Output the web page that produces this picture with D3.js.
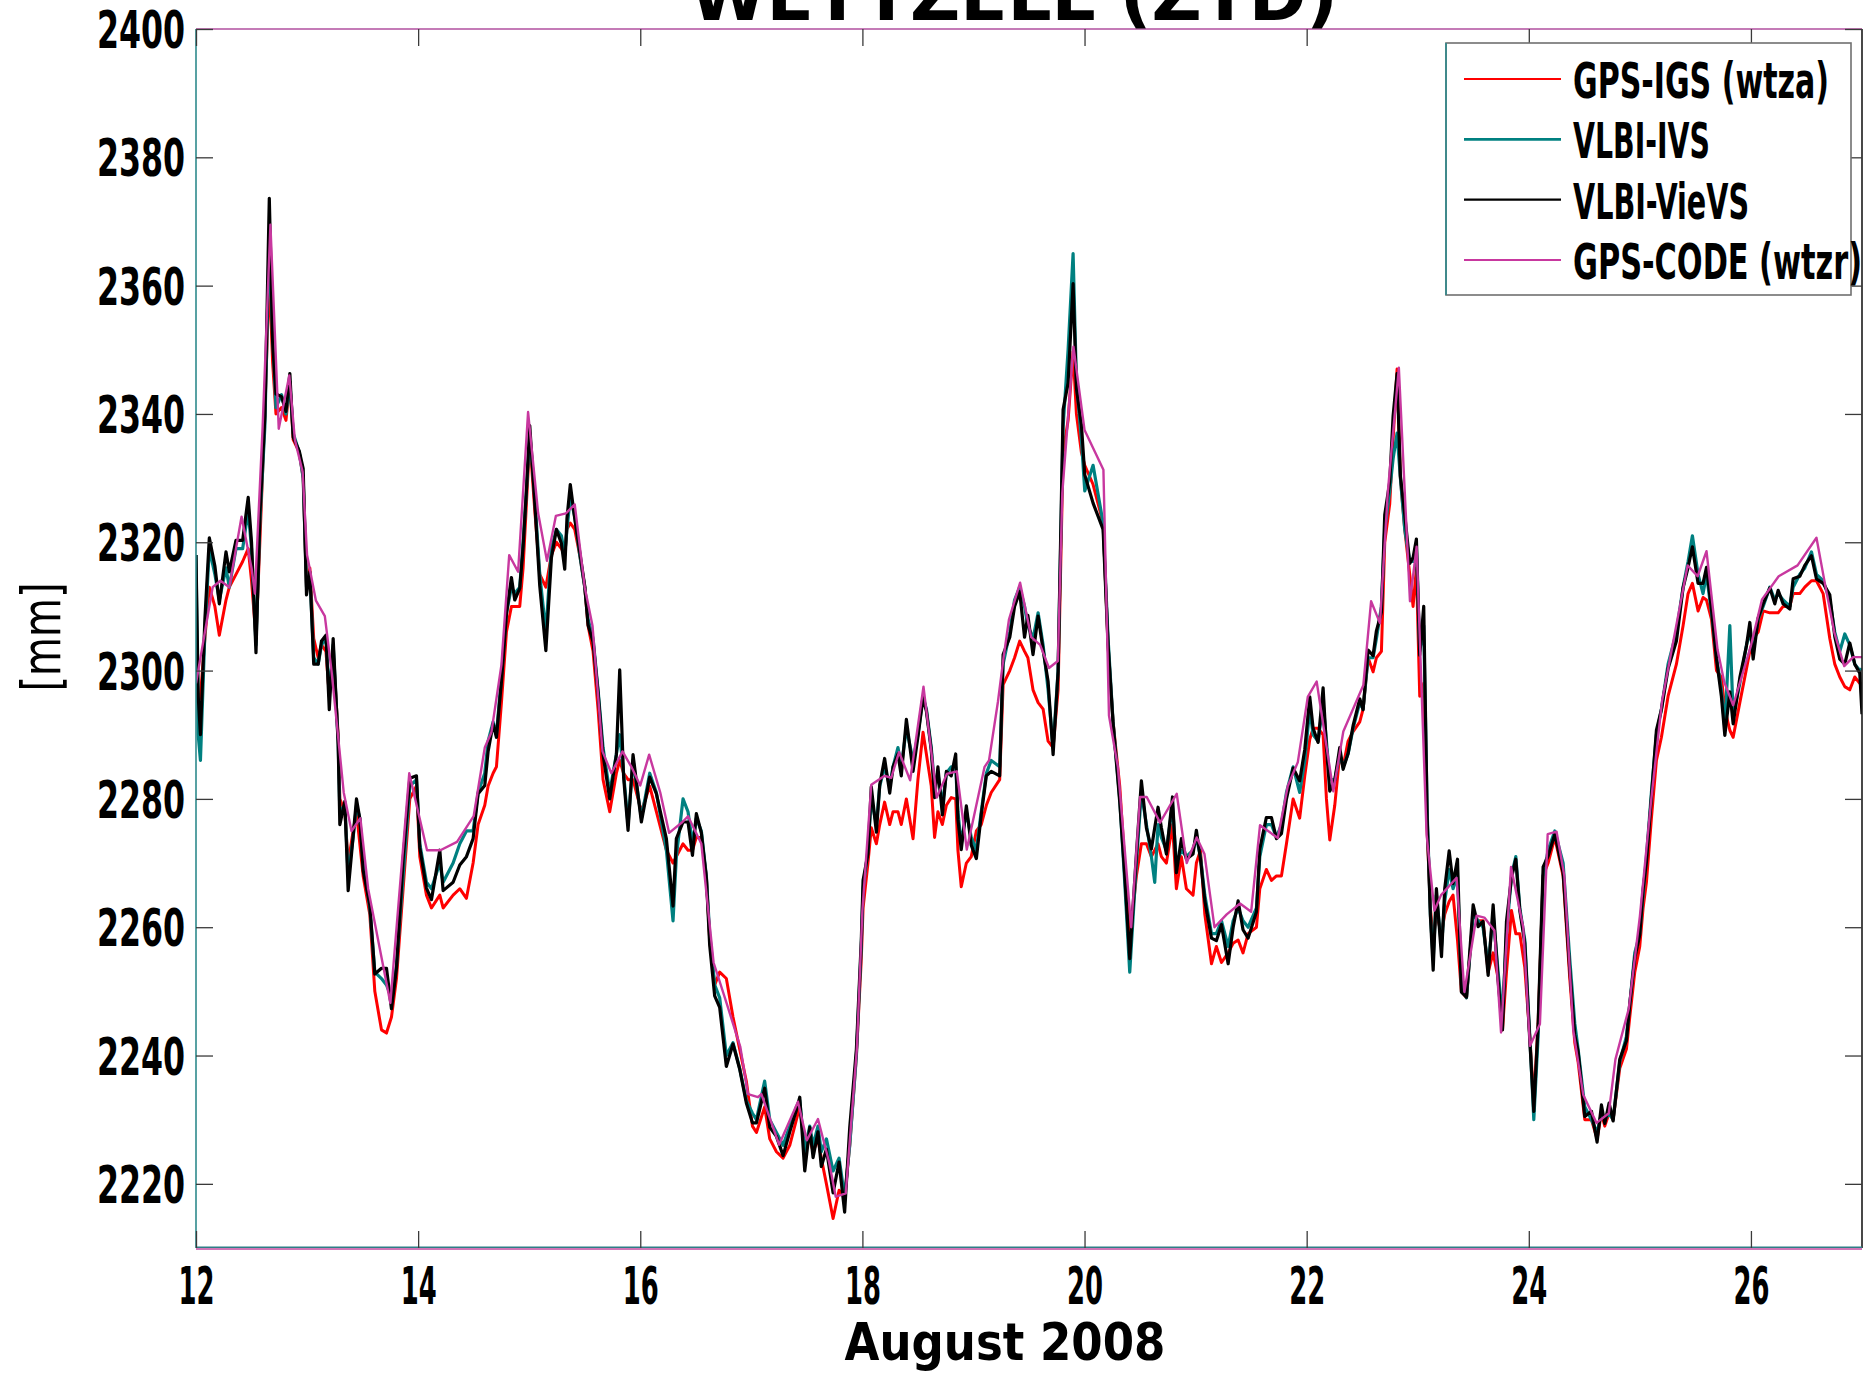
<!DOCTYPE html>
<html>
<head>
<meta charset="utf-8">
<script src="https://cdn.jsdelivr.net/npm/d3@7"></script>
<style>
  html, body { margin: 0; padding: 0; background: #fff; }
  svg { display: block; }
</style>
</head>
<body>
<div id="chart"></div>
<script>
"use strict";

// --- data (days of August 2008, ZTD in mm) ---

// epochs shared by the two VLBI solutions and the IGS GPS series
var vlbiDays = [
	12.000, 12.020, 12.040, 12.080, 12.120, 12.170, 12.210, 12.270, 12.300, 12.360, 12.420, 12.470, 12.500, 12.540, 12.575, 12.620, 12.660, 12.690, 12.720, 12.770, 12.810, 12.845, 12.875, 12.930, 12.965, 12.995,
	13.025, 13.060, 13.100, 13.130, 13.170, 13.200, 13.235, 13.280, 13.295, 13.340, 13.370, 13.415, 13.445, 13.475, 13.505, 13.565, 13.610, 13.670, 13.715, 13.760, 13.805, 13.865, 13.925, 13.985,
	14.015, 14.075, 14.120, 14.195, 14.225, 14.315, 14.375, 14.435, 14.495, 14.540, 14.600, 14.630, 14.675, 14.705, 14.750, 14.795, 14.840, 14.870, 14.915, 14.945, 14.975,
	15.005, 15.050, 15.095, 15.150, 15.200, 15.245, 15.290, 15.320, 15.340, 15.370, 15.410, 15.455, 15.500, 15.530, 15.575, 15.620, 15.665, 15.725, 15.785, 15.815, 15.850, 15.890, 15.935,
	16.010, 16.085, 16.145, 16.235, 16.295, 16.325, 16.385, 16.430, 16.470, 16.505, 16.550, 16.595, 16.625, 16.670, 16.715, 16.775, 16.835, 16.895, 16.955,
	17.010, 17.046, 17.120, 17.166, 17.226, 17.286, 17.346, 17.406, 17.436, 17.481, 17.526, 17.556, 17.600, 17.630, 17.676, 17.736, 17.790, 17.840, 17.886, 17.946, 17.990,
	18.006, 18.050, 18.080, 18.126, 18.156, 18.200, 18.246, 18.276, 18.320, 18.350, 18.396, 18.456, 18.500, 18.546, 18.576, 18.620, 18.650, 18.680, 18.720, 18.756, 18.800, 18.840, 18.860, 18.890, 18.936, 18.980,
	19.026, 19.070, 19.116, 19.160, 19.236, 19.267, 19.327, 19.370, 19.416, 19.460, 19.490, 19.536, 19.582, 19.627, 19.672, 19.717, 19.762, 19.807, 19.852, 19.897, 19.927, 19.972,
	20.002, 20.077, 20.167, 20.212, 20.257, 20.317, 20.362, 20.407, 20.467, 20.512, 20.557, 20.602, 20.632, 20.662, 20.692, 20.737, 20.792, 20.827, 20.872, 20.917, 20.977,
	21.007, 21.044, 21.083, 21.143, 21.187, 21.233, 21.293, 21.338, 21.383, 21.427, 21.473, 21.548, 21.578, 21.637, 21.683, 21.728, 21.773, 21.818, 21.878, 21.937, 21.983,
	22.028, 22.058, 22.103, 22.148, 22.178, 22.208, 22.253, 22.298, 22.328, 22.373, 22.418, 22.478, 22.508, 22.553, 22.598, 22.628, 22.673, 22.703, 22.748, 22.778, 22.814, 22.844, 22.883, 22.928, 22.958, 22.988,
	23.018, 23.054, 23.085, 23.114, 23.139, 23.168, 23.214, 23.243, 23.283, 23.318, 23.358, 23.393, 23.439, 23.499, 23.544, 23.588, 23.634, 23.679, 23.724, 23.763, 23.799, 23.844, 23.883, 23.919, 23.964,
	24.009, 24.045, 24.084, 24.129, 24.174, 24.234, 24.309, 24.369, 24.414, 24.444, 24.504, 24.564, 24.615, 24.654, 24.684, 24.723, 24.759, 24.819, 24.879, 24.909, 24.954, 24.999,
	25.029, 25.059, 25.104, 25.149, 25.194, 25.254, 25.329, 25.389, 25.434, 25.473, 25.524, 25.569, 25.600, 25.645, 25.690, 25.734, 25.765, 25.810, 25.840, 25.900, 25.960, 25.990,
	26.020, 26.065, 26.110, 26.170, 26.215, 26.245, 26.290, 26.350, 26.380, 26.440, 26.485, 26.545, 26.590, 26.650, 26.710, 26.755, 26.800, 26.845, 26.890, 26.935, 26.980, 27.000
];

var vievsZtd = [
	2318, 2296, 2290, 2308, 2320.7, 2316.3, 2310.4, 2318.5, 2315.4, 2320.3, 2320.3, 2327, 2320, 2302.8, 2324.3, 2339.6, 2373.6, 2351.2, 2343.1, 2342.7, 2340.4, 2346.3, 2336.4, 2334.2, 2331.5, 2311.8,
	2315.4, 2301, 2301, 2304.6, 2305.5, 2293.9, 2305, 2288.5, 2276, 2279.6, 2265.7, 2274.2, 2280, 2276.9, 2268.8, 2263.5, 2252.7, 2253.6, 2253.6, 2247.3, 2253.6, 2270.6, 2283.2, 2283.6,
	2272.4, 2266.1, 2264.3, 2272, 2265.7, 2267, 2269.7, 2271, 2273.8, 2280.8, 2282.1, 2287.4, 2291.7, 2289.6, 2298.3, 2308.8, 2314.5, 2311, 2312.8, 2319.3, 2328.1,
	2338.2, 2326.3, 2313.2, 2303.1, 2317.6, 2322, 2319.8, 2315.8, 2323.7, 2329, 2323.7, 2318.5, 2313.2, 2307.1, 2304.5, 2296.6, 2286.9, 2280, 2286.9, 2300.1, 2283.4, 2275.1, 2286.9,
	2276.4, 2283.4, 2280.8, 2273.8, 2263.3, 2273.8, 2276.4, 2276.4, 2271.2, 2277.7, 2274.7, 2267.7, 2257.2, 2249.3, 2247.5, 2238.3, 2241.8, 2237.9, 2232.6,
	2229.5, 2229.5, 2234.9, 2228.8, 2227.4, 2224.4, 2228.1, 2231.5, 2233.5, 2222, 2228.8, 2224.1, 2228.1, 2222.7, 2225.4, 2218.6, 2223.4, 2215.6, 2228.8, 2241, 2257.9,
	2267.3, 2271.4, 2281.9, 2274.8, 2282.2, 2286.3, 2280.9, 2285, 2287, 2283.6, 2292.4, 2284.3, 2289.7, 2295.8, 2293.7, 2287.6, 2280.2, 2285, 2277.5, 2284.3, 2283.6, 2287, 2276.8, 2272.1, 2278.9, 2272.8,
	2270.7, 2277.5, 2283.6, 2284.3, 2283.6, 2302.5, 2305.2, 2310, 2312.3, 2305.2, 2308.6, 2302.5, 2308.5, 2303.2, 2298.3, 2286.9, 2299.9, 2340.7, 2344.8, 2360.3, 2344, 2338.3,
	2330.5, 2326.1, 2322, 2304, 2291.8, 2279.5, 2268.1, 2255.1, 2271.4, 2282.8, 2275.5, 2272.2, 2275.5, 2278.7, 2275.5, 2271.4, 2280.3, 2268.5, 2273.8, 2270.6, 2271.4,
	2275.1, 2270.6, 2264.1, 2258.3, 2257.9, 2260.4, 2254.3, 2260, 2264.1, 2259.6, 2258.3, 2262.4, 2272.2, 2277.1, 2277.1, 2273.8, 2274.6, 2280, 2284.8, 2282.8, 2287.7,
	2295.9, 2291, 2288.8, 2297.3, 2288, 2281.2, 2282.9, 2288, 2284.6, 2287.1, 2291.4, 2295.6, 2293.9, 2303.2, 2302.3, 2306.2, 2309.1, 2324.3, 2329.4, 2339.6, 2346.3, 2330.3, 2324.3, 2316.7, 2317.6, 2320.5,
	2302.4, 2310, 2277, 2261.8, 2253.3, 2266, 2255.4, 2266, 2271.9, 2266.8, 2270.6, 2249.9, 2249.1, 2263.5, 2260.1, 2260.9, 2252.5, 2263.5, 2251.6, 2244, 2260.9, 2267.7, 2270.6, 2262.6, 2257.5,
	2242.3, 2231.3, 2244.9, 2269.4, 2271.1, 2274.5, 2268.5, 2253.3, 2243.2, 2240.6, 2230.5, 2231.3, 2226.5, 2232.3, 2229.4, 2232.6, 2229.8, 2239.4, 2242.3, 2248, 2255.2, 2258.8,
	2265.9, 2270.2, 2280.3, 2290.7, 2293.9, 2300.3, 2304.6, 2312.9, 2316.1, 2319.3, 2313.6, 2313.6, 2316.1, 2309.6, 2301.8, 2296, 2289.9, 2296.7, 2291.7, 2298.9, 2303.9, 2307.5,
	2301.8, 2308.2, 2310.4, 2312.9, 2310.4, 2312.5, 2310.4, 2309.6, 2314.3, 2314.7, 2316.4, 2317.9, 2314.3, 2313.6, 2311.8, 2305.3, 2301.8, 2301, 2304.3, 2301, 2299.6, 2293.2
];

var ivsZtd = [
	2318, 2290, 2286, 2306, 2319, 2315, 2311, 2316, 2313, 2319, 2319, 2325, 2319, 2304, 2323, 2338, 2368, 2352, 2341, 2343, 2340, 2345, 2337, 2334, 2330, 2313,
	2315, 2302, 2301, 2304, 2305, 2296, 2304, 2289, 2278, 2279, 2268, 2274, 2279, 2277, 2270, 2263, 2253, 2252, 2251, 2249, 2254, 2268, 2282, 2283,
	2273, 2267, 2266, 2270, 2267, 2270, 2273, 2275, 2275, 2281, 2284, 2289, 2292, 2290, 2299, 2309, 2313, 2312, 2313, 2320, 2328,
	2337, 2327, 2315, 2306, 2319, 2322, 2321, 2318, 2322, 2327, 2324, 2318, 2313, 2308, 2305, 2297, 2288, 2281, 2287, 2290, 2284, 2276, 2286,
	2277, 2284, 2281, 2272, 2261, 2271, 2280, 2278, 2273, 2277, 2275, 2268, 2259, 2251, 2249, 2240, 2242, 2238, 2233,
	2231, 2230, 2236, 2230, 2228, 2226, 2229, 2232, 2233, 2225, 2229, 2226, 2229, 2225, 2227, 2222, 2224, 2218, 2226, 2240, 2257,
	2266, 2272, 2280, 2276, 2282, 2285, 2282, 2285, 2288, 2285, 2291, 2286, 2290, 2296, 2294, 2288, 2282, 2284, 2279, 2284, 2285, 2285, 2278, 2273, 2278, 2274,
	2272, 2278, 2284, 2286, 2285, 2301, 2306, 2311, 2313, 2310, 2307, 2305, 2309, 2304, 2297, 2288, 2300, 2338, 2350, 2365, 2345, 2336,
	2328, 2332, 2323, 2305, 2292, 2280, 2267, 2253, 2270, 2281, 2276, 2271, 2267, 2276, 2274, 2272, 2279, 2270, 2272, 2271, 2272,
	2274, 2271, 2265, 2259, 2259, 2261, 2257, 2261, 2263, 2261, 2260, 2263, 2271, 2276, 2276, 2274, 2276, 2281, 2285, 2281, 2286,
	2294, 2290, 2289, 2295, 2289, 2283, 2283, 2287, 2285, 2287, 2291, 2295, 2294, 2302, 2302, 2305, 2310, 2322, 2328, 2333, 2337, 2330, 2322, 2317, 2317, 2319,
	2303, 2307, 2278, 2262, 2255, 2265, 2257, 2264, 2269, 2266, 2268, 2251, 2249, 2262, 2261, 2260, 2254, 2262, 2253, 2246, 2259, 2268, 2271, 2263, 2258,
	2243, 2230, 2243, 2268, 2272, 2275, 2270, 2255, 2245, 2241, 2232, 2230, 2228, 2231, 2230, 2231, 2230, 2239, 2243, 2248, 2256, 2259,
	2265, 2271, 2281, 2290, 2294, 2301, 2306, 2313, 2317, 2321, 2315, 2312, 2315, 2309, 2302, 2297, 2291, 2307, 2293, 2298, 2304, 2306,
	2303, 2308, 2310, 2313, 2311, 2312, 2311, 2310, 2313, 2315, 2316, 2318.5, 2315, 2314, 2311, 2306, 2303, 2305.7, 2304, 2301, 2300, 2300.3
];

var igsZtd = [
	2300, 2295, 2296, 2305, 2313, 2310, 2305.5, 2311, 2313, 2315, 2317, 2319, 2314, 2305, 2320, 2340, 2362, 2348, 2340, 2341, 2339, 2345, 2336, 2334, 2330, 2313,
	2316, 2305, 2302, 2304, 2303, 2296, 2303, 2290, 2280, 2278, 2270, 2275, 2278, 2273, 2268, 2262, 2250, 2244, 2243.5, 2246, 2252, 2266, 2280, 2282,
	2271, 2265, 2263, 2265, 2263, 2265, 2266, 2264.5, 2270, 2276, 2279, 2282, 2284, 2285, 2295, 2306, 2310, 2310, 2310, 2316, 2326,
	2336, 2325, 2315, 2313, 2318, 2320, 2319, 2318, 2322, 2323, 2322, 2318, 2313, 2307, 2303, 2294, 2283, 2278, 2284, 2286, 2284, 2283, 2283,
	2278, 2282, 2278, 2272, 2270, 2271, 2273, 2272, 2272, 2274, 2274, 2268, 2258, 2251, 2253, 2252, 2246, 2241, 2236,
	2229, 2228, 2232, 2227, 2225, 2224, 2226, 2230, 2232, 2226, 2227, 2225, 2227, 2224, 2220, 2214.6, 2219, 2218, 2226, 2240, 2255,
	2263, 2270, 2275.5, 2273, 2276, 2279.5, 2276, 2278, 2278, 2276, 2280, 2273.8, 2283, 2290.4, 2287, 2282, 2274, 2278, 2276, 2279, 2280.2, 2280, 2272, 2266.3, 2270, 2271,
	2275, 2276, 2279, 2281, 2283, 2297.8, 2300, 2302, 2304.6, 2303, 2302, 2297, 2295, 2294, 2289, 2288, 2297, 2334, 2339, 2349.7, 2340, 2334,
	2332, 2329, 2323, 2304, 2292, 2282, 2270, 2258, 2268, 2273, 2273, 2271, 2272, 2273, 2271, 2270, 2276, 2266, 2271, 2266, 2265,
	2270, 2272, 2262, 2254.3, 2257, 2254.5, 2256, 2257.5, 2258, 2256, 2259, 2260, 2266, 2269, 2267.3, 2268, 2268, 2273, 2280, 2277, 2283.6,
	2289.3, 2291, 2291, 2290, 2280, 2273.6, 2279, 2287, 2285, 2289, 2290.5, 2292, 2294, 2302, 2299.8, 2302, 2303, 2320, 2326, 2336, 2347, 2330, 2322, 2315, 2310, 2316,
	2296, 2298, 2275, 2263, 2258, 2262, 2259, 2262, 2264, 2265, 2258, 2250, 2249, 2262, 2261, 2261, 2253, 2256, 2252, 2244, 2253, 2262.6, 2259, 2259, 2253.7,
	2243, 2233, 2245, 2268, 2270, 2274, 2268, 2252, 2242, 2239, 2230, 2230, 2227, 2231, 2229, 2231, 2230, 2238, 2241, 2246, 2253, 2257,
	2263, 2267, 2277, 2286, 2289.6, 2296, 2301, 2307, 2312, 2313.6, 2309.3, 2311.4, 2311, 2308, 2300, 2299, 2294, 2290.7, 2289.6, 2295, 2300.3, 2303,
	2305, 2306, 2309.3, 2309, 2309, 2309, 2310, 2310, 2312, 2312, 2313, 2314, 2314, 2312, 2305, 2301, 2299, 2297.5, 2297, 2299, 2298, 2298
];

// CODE GPS solution has its own, sparser epochs
var codeDays = [
	12.00, 12.15, 12.22, 12.30, 12.41, 12.50, 12.53, 12.60, 12.67, 12.745,
	12.84, 12.89, 12.96, 13.00, 13.08, 13.16, 13.22, 13.33, 13.40, 13.48,
	13.55, 13.75, 13.92, 14.08, 14.20, 14.35, 14.50, 14.60, 14.66, 14.75,
	14.82, 14.90, 14.99, 15.08, 15.16, 15.24, 15.33, 15.41, 15.50, 15.57,
	15.66, 15.74, 15.84, 15.92, 16.00, 16.08, 16.18, 16.26, 16.38, 16.43,
	16.55, 16.66, 16.78, 16.90, 16.97, 17.06, 17.09, 17.25, 17.42, 17.50,
	17.60, 17.70, 17.76, 17.85, 17.95, 18.00, 18.08, 18.20, 18.26, 18.33,
	18.43, 18.55, 18.67, 18.76, 18.85, 18.94, 19.10, 19.14, 19.22, 19.27,
	19.32, 19.42, 19.52, 19.60, 19.68, 19.76, 19.80, 19.90, 20.00, 20.17,
	20.22, 20.30, 20.42, 20.50, 20.56, 20.68, 20.83, 20.92, 21.01, 21.08,
	21.17, 21.28, 21.40, 21.50, 21.58, 21.74, 21.83, 21.92, 22.01, 22.09,
	22.24, 22.33, 22.51, 22.58, 22.66, 22.73, 22.83, 22.93, 22.99, 23.08,
	23.15, 23.21, 23.35, 23.42, 23.53, 23.60, 23.69, 23.75, 23.84, 23.95,
	24.01, 24.10, 24.17, 24.25, 24.32, 24.40, 24.49, 24.61, 24.72, 24.78,
	24.90, 25.00, 25.10, 25.20, 25.43, 25.52, 25.60, 25.70, 25.76, 25.84,
	26.00, 26.10, 26.25, 26.42, 26.59, 26.67, 26.75, 26.84, 26.92, 27.00
];

var codeZtd = [
	2298, 2313, 2314, 2313, 2324, 2316, 2312, 2338, 2369.5, 2337.7,
	2346, 2336, 2331, 2318, 2310.9, 2308.5, 2300, 2281, 2275, 2277,
	2266, 2248.2, 2284, 2272, 2272, 2273.3, 2277.3, 2288, 2290.4, 2300.9,
	2318, 2315.4, 2340.3, 2324.6, 2317.1, 2324.1, 2324.5, 2325.9, 2313, 2307,
	2287.4, 2284, 2287.4, 2285, 2282.1, 2286.9, 2281, 2274.7, 2276.4, 2277.3,
	2273, 2254.5, 2248, 2241.4, 2234, 2233.5, 2234, 2226.1, 2232.8, 2226.8,
	2230.1, 2223.4, 2218, 2218.5, 2241, 2262.6, 2282.2, 2283.6, 2283.3, 2287.3,
	2282.9, 2297.5, 2280.2, 2283.9, 2284.3, 2272.1, 2285, 2286, 2295.1, 2301.9,
	2308, 2313.7, 2305.2, 2304, 2300.4, 2301.5, 2327.7, 2350.5, 2337.5, 2331.3,
	2293, 2285, 2260, 2280.3, 2280.3, 2276.3, 2280.8, 2270, 2274, 2271.4,
	2260, 2262, 2263.7, 2262.4, 2275.9, 2273.9, 2282, 2285.7, 2295.9, 2298.3,
	2281.2, 2290.5, 2297.7, 2310.8, 2307.4, 2327.7, 2347.2, 2310.8, 2319.3, 2274.4,
	2262.6, 2265, 2267.7, 2249.9, 2261.8, 2261.5, 2259.5, 2243.6, 2269.4, 2260,
	2241.5, 2244.9, 2274.5, 2274.9, 2268, 2244, 2233.9, 2229.5, 2231, 2239.4,
	2247.3, 2261.7, 2279.5, 2295.3, 2316.4, 2314.7, 2318.6, 2303.2, 2298.2, 2294.6,
	2303.9, 2311.1, 2314.7, 2316.4, 2320.7, 2313.2, 2306, 2300.7, 2302.1, 2302.1
];

var seriesNames = ["GPS-IGS (wtza)", "VLBI-IVS", "VLBI-VieVS", "GPS-CODE (wtzr)"];
var xTicks = [12, 14, 16, 18, 20, 22, 24, 26];
var yTicks = [2220, 2240, 2260, 2280, 2300, 2320, 2340, 2360, 2380, 2400];

// --- layout ---
var W = 1865, H = 1375;
var plotLeft = 196, plotRight = 1862, plotTop = 29, plotBottom = 1248;
var labelFont = "'DejaVu Sans Condensed', 'DejaVu Sans', sans-serif";

var svg = d3.select("#chart").append("svg")
	.attr("width", W)
	.attr("height", H);

svg.append("rect").attr("width", W).attr("height", H).attr("fill", "#fff");

var x = d3.scaleLinear().domain([12, 27]).range([plotLeft, plotRight]);
var y = d3.scaleLinear().domain([2210, 2400]).range([plotBottom, plotTop]);

/**
 * Ticks pointing into the plot on all four sides, labels only left and bottom
 */
var drawAxes = function () {
	var tickLen = 17;
	var plain = d3.format("d");

	var gx = svg.append("g")
		.attr("transform", "translate(0," + plotBottom + ")")
		.call(d3.axisBottom(x).tickValues(xTicks).tickFormat(plain).tickSizeInner(-tickLen).tickSizeOuter(0).tickPadding(0));
	gx.selectAll(".tick text")
		.attr("y", 56)
		.attr("dy", null)
		.attr("textLength", 36)
		.attr("lengthAdjust", "spacingAndGlyphs");

	svg.append("g")
		.attr("transform", "translate(0," + plotTop + ")")
		.call(d3.axisTop(x).tickValues(xTicks).tickSizeInner(-tickLen).tickSizeOuter(0).tickFormat(""));

	var gy = svg.append("g")
		.attr("transform", "translate(" + plotLeft + ",0)")
		.call(d3.axisLeft(y).tickValues(yTicks).tickFormat(plain).tickSizeInner(-tickLen).tickSizeOuter(0).tickPadding(0));
	gy.selectAll(".tick text")
		.attr("x", -11)
		.attr("dy", null)
		.attr("y", 18.5)
		.attr("textLength", 88)
		.attr("lengthAdjust", "spacingAndGlyphs");

	svg.append("g")
		.attr("transform", "translate(" + plotRight + ",0)")
		.call(d3.axisRight(y).tickValues(yTicks).tickSizeInner(-tickLen).tickSizeOuter(0).tickFormat(""));

	svg.selectAll(".domain").remove();
	svg.selectAll(".tick line").attr("stroke", "#3a3a3a").attr("stroke-width", 1.3);
	svg.selectAll(".tick text")
		.attr("fill", "#000")
		.style("font-family", labelFont)
		.style("font-weight", "bold")
		.style("font-size", "51px");
};

/**
 * Plot frame, each side drawn separately like the original
 */
var drawFrame = function () {
	var edges = [
		[plotLeft, plotTop, plotRight, plotTop, "#b04f9f"],
		[plotLeft, plotTop, plotLeft, plotBottom, "#2e8a8c"],
		[plotRight, plotTop, plotRight, plotBottom, "#1a1a1a"],
		[plotLeft, plotBottom - 0.8, plotRight, plotBottom - 0.8, "#2e7f86"],
		[plotLeft, plotBottom + 1, plotRight, plotBottom + 1, "#c0489f"]
	];
	svg.append("g").selectAll("line")
		.data(edges)
		.join("line")
		.attr("x1", function (d) { return d[0]; })
		.attr("y1", function (d) { return d[1]; })
		.attr("x2", function (d) { return d[2]; })
		.attr("y2", function (d) { return d[3]; })
		.attr("stroke", function (d) { return d[4]; })
		.attr("stroke-width", 1.6);
};

var series = [
	{ name: seriesNames[0], days: vlbiDays, values: igsZtd, color: "#ff0000", width: 3, legendWidth: 2.2 },
	{ name: seriesNames[1], days: vlbiDays, values: ivsZtd, color: "#008080", width: 3.2, legendWidth: 2.8 },
	{ name: seriesNames[2], days: vlbiDays, values: vievsZtd, color: "#000000", width: 3.2, legendWidth: 2.2 },
	{ name: seriesNames[3], days: codeDays, values: codeZtd, color: "#c8389f", width: 2.4, legendWidth: 1.8 }
];

/**
 * The four time series, clipped to the plot area
 */
var drawSeries = function () {
	svg.append("clipPath").attr("id", "plotclip")
		.append("rect")
		.attr("x", plotLeft).attr("y", plotTop)
		.attr("width", plotRight - plotLeft).attr("height", plotBottom - plotTop);

	var line = d3.line()
		.x(function (d) { return x(d[0]); })
		.y(function (d) { return y(d[1]); });

	svg.append("g")
		.attr("clip-path", "url(#plotclip)")
		.selectAll("path")
		.data(series)
		.join("path")
		.attr("d", function (s) { return line(d3.zip(s.days, s.values)); })
		.attr("fill", "none")
		.attr("stroke", function (s) { return s.color; })
		.attr("stroke-width", function (s) { return s.width; })
		.attr("stroke-linejoin", "round");
};

/**
 * Boxed legend in the upper right corner
 */
var drawLegend = function () {
	var g = svg.append("g");
	var rowY = d3.scalePoint().domain(seriesNames).range([79, 260]);
	var textWidths = [256, 137, 176, 289];

	g.append("rect")
		.attr("x", 1446).attr("y", 43)
		.attr("width", 405).attr("height", 252)
		.attr("fill", "#fff")
		.attr("stroke", "#707070")
		.attr("stroke-width", 1.6);
	g.append("line")
		.attr("x1", 1446).attr("y1", 43).attr("x2", 1446).attr("y2", 295)
		.attr("stroke", "#2e8a8c").attr("stroke-width", 1.6);

	var rows = g.selectAll("g.row")
		.data(series)
		.join("g")
		.attr("class", "row")
		.attr("transform", function (s) { return "translate(0," + rowY(s.name) + ")"; });

	rows.append("line")
		.attr("x1", 1464).attr("x2", 1561)
		.attr("stroke", function (s) { return s.color; })
		.attr("stroke-width", function (s) { return s.legendWidth; });

	rows.append("text")
		.attr("x", 1573)
		.attr("y", 19)
		.attr("textLength", function (s, i) { return textWidths[i]; })
		.attr("lengthAdjust", "spacingAndGlyphs")
		.style("font-family", labelFont)
		.style("font-weight", "bold")
		.style("font-size", "50px")
		.text(function (s) { return s.name; });
};

/**
 * Title (cut by the top of the picture), axis titles
 */
var drawTitles = function () {
	svg.append("text")
		.attr("x", 1014).attr("y", 20)
		.attr("text-anchor", "middle")
		.attr("textLength", 648)
		.attr("lengthAdjust", "spacingAndGlyphs")
		.style("font-family", labelFont)
		.style("font-weight", "bold")
		.style("font-size", "68px")
		.text("WETTZELL (ZTD)");

	svg.append("text")
		.attr("x", 1005).attr("y", 1360)
		.attr("text-anchor", "middle")
		.attr("textLength", 321)
		.attr("lengthAdjust", "spacingAndGlyphs")
		.style("font-family", labelFont)
		.style("font-weight", "bold")
		.style("font-size", "52px")
		.text("August 2008");

	svg.append("text")
		.attr("transform", "translate(60,637) rotate(-90)")
		.attr("text-anchor", "middle")
		.attr("textLength", 109)
		.attr("lengthAdjust", "spacingAndGlyphs")
		.style("font-family", labelFont)
		.style("font-size", "54px")
		.text("[mm]");
};

drawSeries();
drawFrame();
drawAxes();
drawLegend();
drawTitles();
</script>
</body>
</html>
